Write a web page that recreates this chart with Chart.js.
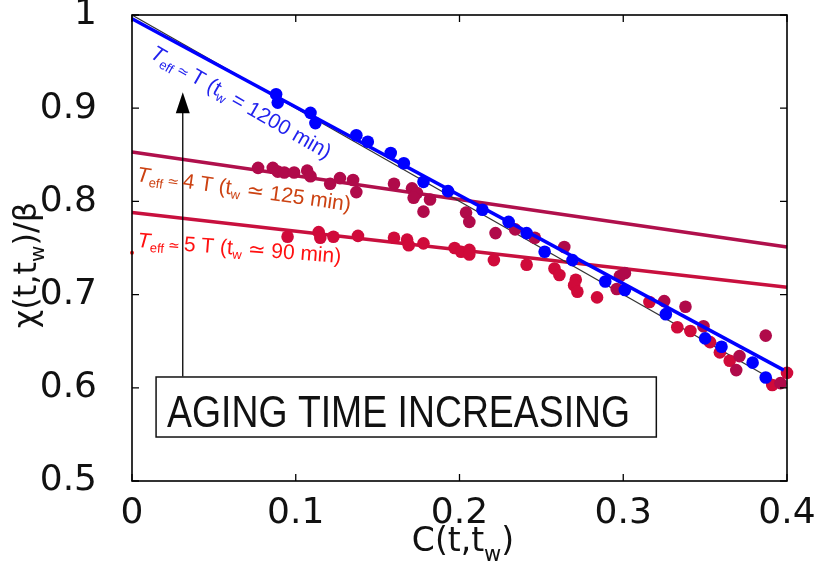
<!DOCTYPE html>
<html><head><meta charset="utf-8">
<script src="https://cdn.jsdelivr.net/npm/chart.js@4/dist/chart.umd.min.js"></script>
<style>html,body{margin:0;padding:0;background:#fff}canvas{display:block}</style>
</head><body>
<canvas id="c" width="817" height="574"></canvas>
<script>
// ---- data ----
const xTickValues = [0, 0.1, 0.2, 0.3, 0.4];
const yTickValues = [0.5, 0.6, 0.7, 0.8, 0.9, 1];

// tw = 1200 min (blue)
const blueX = [0.088,0.089,0.109,0.112,0.137,0.144,0.158,0.166,0.178,0.193,0.214,0.230,0.241,0.252,0.269,0.289,0.301,0.326,0.350,0.360,0.379,0.387];
const blueY = [0.915,0.906,0.895,0.884,0.871,0.864,0.852,0.841,0.821,0.811,0.791,0.778,0.766,0.746,0.737,0.714,0.705,0.679,0.653,0.644,0.627,0.611];

// tw = 125 min (crimson)
const crimsonX = [0.077,0.086,0.089,0.093,0.099,0.107,0.109,0.121,0.127,0.135,0.137,0.160,0.171,0.174,0.172,0.182,0.178,0.204,0.206,0.222,0.234,0.246,0.264,0.298,0.301,0.296,0.325,0.338,0.349,0.371,0.369,0.387,0.396];
const crimsonY = [0.836,0.836,0.832,0.831,0.831,0.833,0.827,0.819,0.825,0.823,0.810,0.819,0.814,0.809,0.804,0.802,0.789,0.788,0.778,0.766,0.770,0.761,0.751,0.720,0.723,0.706,0.693,0.687,0.666,0.634,0.619,0.656,0.605];

// tw = 90 min (red)
const redX = [0.095,0.114,0.115,0.123,0.138,0.160,0.168,0.169,0.178,0.197,0.201,0.206,0.206,0.221,0.241,0.258,0.261,0.271,0.270,0.272,0.284,0.316,0.333,0.341,0.353,0.359,0.365,0.391,0.400];
const redY = [0.762,0.767,0.761,0.762,0.763,0.761,0.759,0.753,0.755,0.750,0.746,0.748,0.743,0.737,0.732,0.728,0.721,0.716,0.710,0.703,0.697,0.692,0.665,0.661,0.649,0.638,0.629,0.603,0.616];

const strayX = [0];
const strayY = [0.745];

// fitted / reference lines
const refLineX = [0, 0.4],     refLineY = [1, 0.6];
const blueFitX = [0, 0.398],   blueFitY = [0.996, 0.619];
const crimsonFitX = [0, 0.4],  crimsonFitY = [0.853, 0.751];
const redFitX = [0, 0.4],      redFitY = [0.788, 0.708];

const zip = (xs, ys) => xs.map((x, i) => ({x, y: ys[i]}));

// ---- styles ----
const FONT = "'Liberation Sans', 'DejaVu Sans', Arial, sans-serif";
const AXFONT = "'DejaVu Sans', 'Liberation Sans', sans-serif";
const BLUE = '#0000ff', CRIMSON = '#b00a4a', RED = '#d00a3a';

function drawRich(ctx, x, y, angle, segs, color, align, fam) {
  const family = fam || FONT;
  ctx.save();
  ctx.translate(x, y);
  ctx.rotate(angle);
  ctx.fillStyle = color;
  ctx.textBaseline = 'alphabetic';
  ctx.textAlign = 'left';
  let total = 0;
  const widths = segs.map(s => {
    ctx.font = (s.it ? 'italic ' : '') + s.s + 'px ' + family;
    const w = ctx.measureText(s.t).width;
    total += w;
    return w;
  });
  let cx = align === 'center' ? -total / 2 : 0;
  segs.forEach((s, i) => {
    ctx.font = (s.it ? 'italic ' : '') + s.s + 'px ' + family;
    ctx.fillText(s.t, cx, s.dy || 0);
    cx += widths[i];
  });
  ctx.restore();
}

const decor = {
  id: 'decor',
  afterDatasetsDraw(chart) {
    const {ctx, chartArea: a, scales: {x, y}} = chart;
    ctx.save();
    // frame
    ctx.strokeStyle = '#000';
    ctx.lineWidth = 1.6;
    ctx.strokeRect(a.left, a.top, a.right - a.left, a.bottom - a.top);
    // inward ticks
    ctx.lineWidth = 1.3;
    const tl = 7;
    xTickValues.forEach(v => {
      const px = x.getPixelForValue(v);
      ctx.beginPath();
      ctx.moveTo(px, a.bottom); ctx.lineTo(px, a.bottom - tl);
      ctx.moveTo(px, a.top); ctx.lineTo(px, a.top + tl);
      ctx.stroke();
    });
    yTickValues.forEach(v => {
      const py = y.getPixelForValue(v);
      ctx.beginPath();
      ctx.moveTo(a.left, py); ctx.lineTo(a.left + tl, py);
      ctx.moveTo(a.right, py); ctx.lineTo(a.right - tl, py);
      ctx.stroke();
    });

    // arrow
    const ax = x.getPixelForValue(0.031);
    const aBot = y.getPixelForValue(0.612);
    const aTip = y.getPixelForValue(0.917);
    ctx.lineWidth = 1.3;
    ctx.beginPath();
    ctx.moveTo(ax, aBot); ctx.lineTo(ax, aTip + 18);
    ctx.stroke();
    ctx.fillStyle = '#000';
    ctx.beginPath();
    ctx.moveTo(ax, aTip); ctx.lineTo(ax - 7, aTip + 21); ctx.lineTo(ax + 7, aTip + 21);
    ctx.closePath(); ctx.fill();

    // box
    const bx0 = x.getPixelForValue(0.0147), bx1 = x.getPixelForValue(0.3202);
    const by0 = y.getPixelForValue(0.6116), by1 = y.getPixelForValue(0.5472);
    ctx.fillStyle = '#fff';
    ctx.fillRect(bx0, by0, bx1 - bx0, by1 - by0);
    ctx.lineWidth = 1.5;
    ctx.strokeStyle = '#111';
    ctx.strokeRect(bx0, by0, bx1 - bx0, by1 - by0);
    ctx.fillStyle = '#111';
    ctx.font = '45px ' + FONT;
    ctx.textBaseline = 'alphabetic';
    ctx.textAlign = 'left';
    ctx.fillText('AGING TIME INCREASING', bx0 + 11, by1 - 10, 463);
    ctx.restore();

    // curve labels
    drawRich(ctx, 149, 57, 30 * Math.PI / 180, [
      {t: 'T', s: 21, it: true}, {t: 'eff', s: 13, dy: 4}, {t: ' \u2243 ', s: 14},
      {t: 'T (t', s: 21}, {t: 'w', s: 13, dy: 4}, {t: ' = 1200 min)', s: 21}
    ], '#2222ee');
    drawRich(ctx, 136, 181, 8 * Math.PI / 180, [
      {t: 'T', s: 21, it: true}, {t: 'eff', s: 13, dy: 4}, {t: ' \u2243 ', s: 14},
      {t: '4 T (t', s: 21}, {t: 'w', s: 13, dy: 4}, {t: ' \u2243 125 min)', s: 21}
    ], '#cc4212');
    drawRich(ctx, 137, 247, 4.5 * Math.PI / 180, [
      {t: 'T', s: 21, it: true}, {t: 'eff', s: 13, dy: 4}, {t: ' \u2243 ', s: 14},
      {t: '5 T (t', s: 21}, {t: 'w', s: 13, dy: 4}, {t: ' \u2243 90 min)', s: 21}
    ], '#ff1010');

    // axis titles
    drawRich(ctx, 463, 551, 0, [
      {t: 'C(t,t', s: 33}, {t: 'w', s: 21, dy: 10}, {t: ')', s: 33}
    ], '#111', 'center', AXFONT);
    drawRich(ctx, 36, 265, -Math.PI / 2, [
      {t: '\u03c7(t,t', s: 32}, {t: 'w', s: 20, dy: 8}, {t: ')/\u03b2', s: 32}
    ], '#111', 'center', AXFONT);
  }
};

const pointDs = (label, xs, ys, color, order, r) => ({
  label, data: zip(xs, ys), showLine: false,
  pointRadius: r, pointHoverRadius: r, pointBackgroundColor: color,
  pointBorderColor: color, pointBorderWidth: 0, order, clip: 10
});
const lineDs = (label, xs, ys, color, width, order) => ({
  label, data: zip(xs, ys), showLine: true, borderColor: color,
  borderWidth: width, pointRadius: 0, fill: false, order, clip: 4
});

new Chart(document.getElementById('c'), {
  type: 'scatter',
  data: {
    datasets: [
      pointDs('tw=1200 points', blueX, blueY, BLUE, 1, 6.3),
      lineDs('tw=1200 fit', blueFitX, blueFitY, BLUE, 3.5, 2),
      pointDs('tw=125 points', crimsonX, crimsonY, CRIMSON, 3, 6.3),
      pointDs('tw=90 points', redX, redY, RED, 4, 6.3),
      lineDs('reference', refLineX, refLineY, '#333', 1.3, 5),
      lineDs('tw=125 fit', crimsonFitX, crimsonFitY, '#b0104c', 3.5, 6),
      lineDs('tw=90 fit', redFitX, redFitY, '#c8103e', 3.5, 7),
      pointDs('stray', strayX, strayY, '#ff2020', 0, 2)
    ]
  },
  options: {
    responsive: false,
    animation: false,
    events: [],
    layout: {padding: {top: 15, right: 30, left: 0, bottom: 0}},
    plugins: {legend: {display: false}, tooltip: {enabled: false}},
    scales: {
      x: {
        type: 'linear', min: 0, max: 0.4,
        afterBuildTicks: s => { s.ticks = xTickValues.map(v => ({value: v})); },
        afterFit: s => { s.height = 93; s.paddingLeft = 0; s.paddingRight = 0; },
        grid: {display: false}, border: {display: false},
        ticks: {color: '#111', padding: 3, font: {family: AXFONT, size: 36}, maxRotation: 0,
          callback: v => String(+v.toFixed(1))}
      },
      y: {
        type: 'linear', min: 0.5, max: 1,
        afterBuildTicks: s => { s.ticks = yTickValues.map(v => ({value: v})); },
        afterFit: s => { s.width = 132; s.paddingTop = 0; s.paddingBottom = 0; },
        grid: {display: false}, border: {display: false},
        ticks: {color: '#111', padding: 27, font: {family: AXFONT, size: 36},
          callback: v => String(+v.toFixed(1))}
      }
    }
  },
  plugins: [decor]
});
</script>
</body></html>
